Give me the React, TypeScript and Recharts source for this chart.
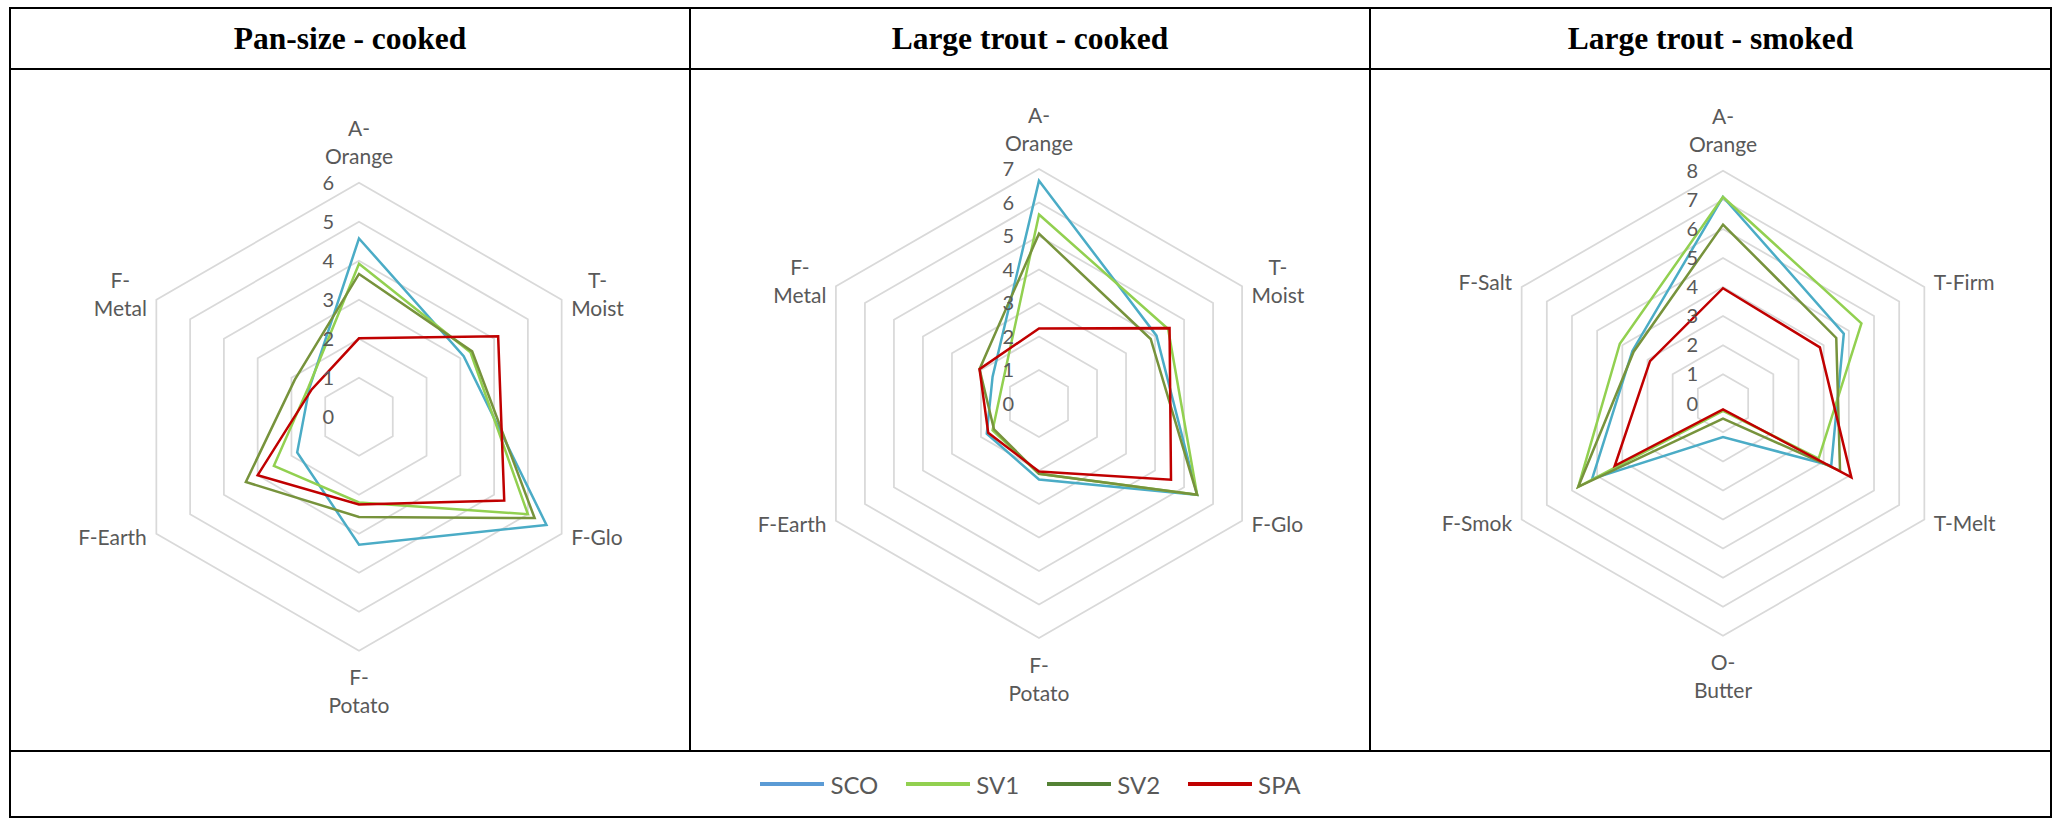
import { RadarChart, Radar, PolarGrid, PolarAngleAxis, PolarRadiusAxis } from "recharts";

// axis labels ("\n" = where the label wraps in the original)
const cookedAxes = ["A-\nOrange", "T-\nMoist", "F-Glo", "F-\nPotato", "F-Earth", "F-\nMetal"];
const smokedAxes = ["A-\nOrange", "T-Firm", "T-Melt", "O-\nButter", "F-Smok", "F-Salt"];

// Pan-size - cooked
const panSCO = [4.57, 3.1, 5.55, 3.28, 1.83, 1.47];
const panSV1 = [3.92, 3.3, 5.0, 2.2, 2.52, 1.5];
const panSV2 = [3.66, 3.35, 5.2, 2.57, 3.35, 1.9];
const panSPA = [2.01, 4.12, 4.3, 2.25, 3.0, 1.4];

// Large trout - cooked
const largeSCO = [6.65, 4.05, 5.45, 2.27, 1.8, 1.6];
const largeSV1 = [5.64, 4.45, 5.45, 2.1, 1.6, 1.25];
const largeSV2 = [5.07, 3.85, 5.45, 2.1, 1.55, 2.05];
const largeSPA = [2.24, 4.5, 4.55, 2.03, 1.75, 2.05];

// Large trout - smoked
const smokedSCO = [7.1, 4.8, 4.3, 1.16, 5.2, 3.6];
const smokedSV1 = [7.1, 5.5, 3.8, 0.26, 5.75, 4.1];
const smokedSV2 = [6.15, 4.5, 4.65, 0.53, 5.75, 3.55];
const smokedSPA = [3.96, 3.85, 5.1, 0.21, 4.3, 2.9];

const titles = ["Pan-size - cooked", "Large trout - cooked", "Large trout - smoked"];
const seriesNames = ["SCO", "SV1", "SV2", "SPA"];
const seriesColors = ["#4BACC6", "#92D050", "#77933C", "#C00000"];
const legendColors = ["#5B9BD5", "#92D050", "#548235", "#C00000"];

const FONT = "Lato, 'Open Sans', sans-serif";
const LABEL_SIZE = 21;
const TICK_SIZE = 20;
const TEXT_COLOR = "#595959";

let measureCtx: CanvasRenderingContext2D | null = null;
function textWidth(s: string) {
  if (!measureCtx) measureCtx = document.createElement("canvas").getContext("2d");
  if (!measureCtx) return s.length * LABEL_SIZE * 0.5;
  measureCtx.font = `${LABEL_SIZE}px Lato`;
  return measureCtx.measureText(s).width;
}

function buildRows(axes: string[], sco: number[], sv1: number[], sv2: number[], spa: number[]) {
  return axes.map((axis, i) => ({ axis, SCO: sco[i], SV1: sv1[i], SV2: sv2[i], SPA: spa[i] }));
}

function angleTick(cx: number, cy: number, r: number) {
  return (props: any) => {
    const { payload } = props;
    const theta = (payload.coordinate * Math.PI) / 180;
    const cos = Math.cos(theta);
    const sin = Math.sin(theta);
    const vx = cx + r * cos;
    const vy = cy - r * sin;
    const lines = String(payload.value).split("\n");
    const lh = 28;
    const base = LABEL_SIZE * 0.36;
    let xs: number[] = [];
    let ys: number[] = [];
    if (Math.abs(cos) < 0.1) {
      xs = lines.map(() => vx);
      ys = sin > 0
        ? lines.map((_, i) => vy - 26 - (lines.length - 1 - i) * lh)
        : lines.map((_, i) => vy + 27 + i * lh);
    } else {
      const bw = Math.max(...lines.map(textWidth));
      const mid = cos > 0 ? vx + 9.5 + bw / 2 : vx - 9.5 - bw / 2;
      const yc = vy + (sin > 0 ? -5 : 4);
      xs = lines.map(() => mid);
      ys = lines.map((_, i) => yc + (i - (lines.length - 1) / 2) * lh);
    }
    return (
      <g>
        {lines.map((line, i) => (
          <text
            key={i}
            x={xs[i]}
            y={ys[i] + base}
            textAnchor="middle"
            fill={TEXT_COLOR}
            style={{ fontFamily: FONT, fontSize: LABEL_SIZE }}
          >
            {line}
          </text>
        ))}
      </g>
    );
  };
}

function radiusTick(props: any) {
  const { x, y, payload } = props;
  return (
    <text
      x={x - 25}
      y={y + TICK_SIZE * 0.36}
      textAnchor="end"
      fill={TEXT_COLOR}
      style={{ fontFamily: FONT, fontSize: TICK_SIZE }}
    >
      {payload.value}
    </text>
  );
}

interface PanelProps {
  data: any[];
  max: number;
  left: number;
  cx: number;
  cy: number;
  radius: number;
}

function Panel({ data, max, left, cx, cy, radius }: PanelProps) {
  return (
    <div style={{ position: "absolute", left, top: 70 }}>
      <RadarChart
        width={680}
        height={680}
        data={data}
        cx={cx}
        cy={cy}
        outerRadius={radius}
        margin={{ top: 0, right: 0, bottom: 0, left: 0 }}
      >
        <PolarGrid gridType="polygon" radialLines={false} stroke="#d9d9d9" strokeWidth={1.75} />
        <PolarAngleAxis dataKey="axis" axisLine={false} tickLine={false} tick={angleTick(cx, cy, radius)} />
        <PolarRadiusAxis
          angle={90}
          domain={[0, max]}
          tickCount={max + 1}
          axisLine={false}
          tickLine={false}
          tick={radiusTick}
        />
        {seriesNames.map((name, i) => (
          <Radar
            key={name}
            dataKey={name}
            stroke={seriesColors[i]}
            strokeWidth={2.5}
            fill="none"
            fillOpacity={0}
            dot={false}
            isAnimationActive={false}
          />
        ))}
      </RadarChart>
    </div>
  );
}

const line = (style: React.CSSProperties) => (
  <div style={{ position: "absolute", background: "#000", ...style }} />
);

export default function App() {
  const panData = buildRows(cookedAxes, panSCO, panSV1, panSV2, panSPA);
  const largeData = buildRows(cookedAxes, largeSCO, largeSV1, largeSV2, largeSPA);
  const smokedData = buildRows(smokedAxes, smokedSCO, smokedSV1, smokedSV2, smokedSPA);
  const colLefts = [11, 691, 1371];
  const colWidths = [678, 678, 679];

  return (
    <div style={{ position: "absolute", left: 0, top: 0, width: 2060, height: 822, background: "#fff" }}>
      {/* table frame */}
      {line({ left: 9, top: 7, width: 2043, height: 2 })}
      {line({ left: 9, top: 816, width: 2043, height: 2 })}
      {line({ left: 9, top: 7, width: 2, height: 811 })}
      {line({ left: 2050, top: 7, width: 2, height: 811 })}
      {line({ left: 9, top: 68, width: 2043, height: 2 })}
      {line({ left: 9, top: 750, width: 2043, height: 2 })}
      {line({ left: 689, top: 7, width: 2, height: 745 })}
      {line({ left: 1369, top: 7, width: 2, height: 745 })}

      {titles.map((t, i) => (
        <div
          key={t}
          style={{
            position: "absolute",
            left: colLefts[i],
            top: 9,
            width: colWidths[i],
            height: 59,
            display: "flex",
            alignItems: "center",
            justifyContent: "center",
            fontFamily: "'Liberation Serif', 'Times New Roman', serif",
            fontWeight: "bold",
            fontSize: 31.5,
          }}
        >
          {t}
        </div>
      ))}

      <Panel data={panData} max={6} left={10} cx={349} cy={346.7} radius={234} />
      <Panel data={largeData} max={7} left={690} cx={349} cy={333.5} radius={234.5} />
      <Panel data={smokedData} max={8} left={1370} cx={353} cy={333.3} radius={232.5} />

      {/* legend */}
      <div
        style={{
          position: "absolute",
          left: 11,
          top: 752,
          width: 2039,
          height: 64,
          display: "flex",
          alignItems: "center",
          justifyContent: "center",
          fontFamily: FONT,
          fontSize: 24,
          color: TEXT_COLOR,
        }}
      >
        {seriesNames.map((name, i) => (
          <div key={name} style={{ display: "flex", alignItems: "center", marginRight: i < 3 ? 28 : 0 }}>
            <div style={{ width: 64, height: 4, background: legendColors[i], marginRight: 6 }} />
            <span>{name}</span>
          </div>
        ))}
      </div>
    </div>
  );
}
